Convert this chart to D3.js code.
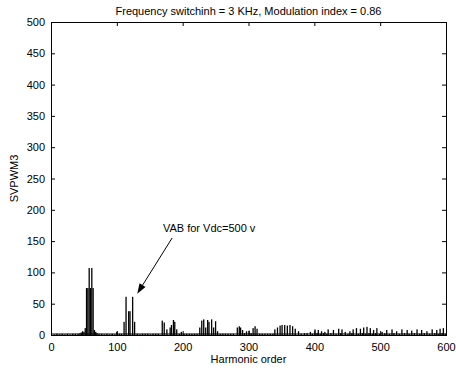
<!DOCTYPE html>
<html>
<head>
<meta charset="utf-8">
<script src="https://cdn.jsdelivr.net/npm/d3@7"></script>
<style>
  body { margin: 0; background: #fff; }
  text { font-family: "Liberation Sans", Arial, Helvetica, sans-serif; fill: #000; }
</style>
</head>
<body>
<script>
// Chart text.
var titleText = "Frequency switchinh = 3 KHz, Modulation index = 0.86",
  xLabel = "Harmonic order",
  yLabel = "SVPWM3",
  noteText = "VAB for Vdc=500 v";

// Axis ticks.
var xTicks = [0, 100, 200, 300, 400, 500, 600],
  yTicks = [0, 50, 100, 150, 200, 250, 300, 350, 400, 450, 500];

// Harmonic spectrum.
var harmonics = [
  44, 46, 48, 50, 52, 54, 56, 58, 60, 62, 64, 66, 68, 70, 73, 100,
  111, 114, 118, 120, 124, 127,
  169, 172, 176, 181, 183, 186, 188, 191, 198,
  226, 229, 232, 235, 238, 240, 244, 247, 250, 253,
  283, 286, 288, 291, 297, 301, 307, 310, 313,
  340, 344, 348, 351, 355, 359, 363, 367, 371, 376,
  394, 401, 406, 411, 416, 421, 429, 437, 442, 447, 454, 459, 464, 470, 475,
  480, 485, 490, 495, 503, 510, 518, 525, 533, 541, 548, 556, 563, 571, 579,
  586, 591, 596
];
var amplitudes = [
  3, 4, 6, 5, 11, 75, 75, 107, 75, 107, 75, 8, 5, 3, 2, 5,
  21, 61, 38, 38, 61, 21,
  23, 20, 9, 12, 16, 24, 21, 9, 5,
  12, 23, 25, 12, 24, 21, 25, 12, 22, 6,
  12, 14, 12, 8, 6, 7, 11, 14, 10,
  9, 12, 15, 16, 16, 15, 16, 14, 10, 6,
  5, 9, 8, 6, 5, 9, 8, 10, 9, 5, 6, 9, 11, 10, 12,
  13, 11, 8, 11, 5, 8, 9, 6, 9, 8, 7, 9, 8, 6, 9,
  8, 10, 11
];

// Low-level floor of the spectrum.
var floorHarmonics = [
  5, 9, 13, 17, 21, 25, 29, 33, 37, 41, 77, 81, 85, 89, 93, 97, 104, 107,
  131, 135, 139, 143, 147, 151, 155, 159, 163, 195, 202, 206, 210, 214, 218, 222,
  257, 261, 265, 269, 273, 277, 294, 304, 317, 321, 325, 329, 333, 337,
  380, 385, 389, 397, 404, 409, 414, 419, 425, 433, 440, 451, 457, 467, 473,
  478, 483, 488, 493, 499, 507, 514, 521, 529, 537, 544, 552, 560, 567, 575, 583, 589, 594, 599
];
var floorAmplitudes = [
  1, 2, 1, 2, 1, 2, 1, 2, 2, 2, 2, 1, 2, 1, 2, 1, 2, 2,
  2, 1, 2, 2, 2, 1, 2, 2, 2, 2, 2, 2, 2, 2, 2, 2,
  2, 2, 2, 2, 2, 2, 3, 3, 2, 2, 2, 2, 2, 2,
  2, 3, 3, 2, 3, 2, 3, 2, 3, 2, 3, 2, 3, 2, 3,
  2, 3, 2, 3, 2, 3, 2, 3, 2, 3, 2, 3, 2, 3, 2, 3, 2, 3, 2
];

// Annotation arrow, in data units: [harmonic, amplitude].
var arrowTail = [184, 155],
  arrowHead = [131, 66],
  notePos = [170, 164];

// Configuration parameters.
var width = 456,
  height = 372,
  margin = {top: 22, right: 10, bottom: 37, left: 51},
  tickLength = 4,
  fontSize = 11;

var svg = d3.select("body").append("svg")
    .attr("width", width)
    .attr("height", height),
  g = svg.append("g")
    .attr("transform", "translate(" + margin.left + "," + margin.top + ")");

var innerW = width - margin.left - margin.right,
  innerH = height - margin.top - margin.bottom;

var x = d3.scaleLinear().domain([0, 600]).range([0, innerW]),
  y = d3.scaleLinear().domain([0, 500]).range([innerH, 0]);

var bars = floorHarmonics.map(function(h, i) {
    return {h: h, v: floorAmplitudes[i]};
  }).concat(harmonics.map(function(h, i) {
    return {h: h, v: amplitudes[i]};
  }));

// Bars.
var barW = 1.3;
g.append("g").selectAll("rect")
    .data(bars)
  .enter().append("rect")
    .attr("x", function(d) { return x(d.h) - barW / 2; })
    .attr("y", function(d) { return y(d.v); })
    .attr("width", barW)
    .attr("height", function(d) { return y(0) - y(d.v); })
    .attr("fill", "#000");

// Baseline thickening.
g.append("line")
    .attr("x1", 0).attr("x2", innerW)
    .attr("y1", innerH - 1).attr("y2", innerH - 1)
    .attr("stroke", "#000").attr("stroke-width", 1);

// Axes, MATLAB style: ticks pointing in on all four sides.
function styleAxis(sel) {
  sel.select(".domain").remove();
  sel.selectAll("line").attr("stroke", "#000");
  sel.selectAll("text").style("font-size", fontSize + "px")
    .style("font-family", '"Liberation Sans", Arial, sans-serif');
}

g.append("g")
    .attr("transform", "translate(0," + innerH + ")")
    .call(d3.axisBottom(x).tickValues(xTicks).tickSize(-tickLength).tickPadding(8))
    .call(styleAxis);
g.append("g")
    .call(d3.axisTop(x).tickValues(xTicks).tickSize(-tickLength).tickFormat(""))
    .call(styleAxis);
g.append("g")
    .call(d3.axisLeft(y).tickValues(yTicks).tickSize(-tickLength).tickPadding(6))
    .call(styleAxis);
g.append("g")
    .attr("transform", "translate(" + innerW + ",0)")
    .call(d3.axisRight(y).tickValues(yTicks).tickSize(-tickLength).tickFormat(""))
    .call(styleAxis);

g.append("rect")
    .attr("x", 0).attr("y", 0)
    .attr("width", innerW).attr("height", innerH)
    .attr("fill", "none")
    .attr("stroke", "#000")
    .attr("stroke-width", 1)
    .attr("shape-rendering", "crispEdges");

// Title and labels.
svg.append("text")
    .attr("x", margin.left + innerW / 2)
    .attr("y", 15)
    .attr("text-anchor", "middle")
    .style("font-size", fontSize + "px")
    .text(titleText);
svg.append("text")
    .attr("x", margin.left + innerW / 2)
    .attr("y", 363)
    .attr("text-anchor", "middle")
    .style("font-size", fontSize + "px")
    .text(xLabel);
svg.append("text")
    .attr("transform", "translate(18," + (margin.top + innerH / 2) + ") rotate(-90)")
    .attr("text-anchor", "middle")
    .style("font-size", fontSize + "px")
    .text(yLabel);

// Annotation.
g.append("text")
    .attr("x", x(notePos[0]))
    .attr("y", y(notePos[1]))
    .style("font-size", fontSize + "px")
    .text(noteText);

var x1 = x(arrowTail[0]), y1 = y(arrowTail[1]),
  x2 = x(arrowHead[0]), y2 = y(arrowHead[1]),
  ang = Math.atan2(y2 - y1, x2 - x1),
  headLen = 10, headHalf = 3.5;
g.append("line")
    .attr("x1", x1).attr("y1", y1)
    .attr("x2", x2 - Math.cos(ang) * headLen * 0.8)
    .attr("y2", y2 - Math.sin(ang) * headLen * 0.8)
    .attr("stroke", "#000").attr("stroke-width", 1);
var bx = x2 - Math.cos(ang) * headLen, by = y2 - Math.sin(ang) * headLen;
g.append("path")
    .attr("d", "M" + x2 + "," + y2 +
      "L" + (bx - Math.sin(ang) * headHalf) + "," + (by + Math.cos(ang) * headHalf) +
      "L" + (bx + Math.sin(ang) * headHalf) + "," + (by - Math.cos(ang) * headHalf) + "Z")
    .attr("fill", "#000");
</script>
</body>
</html>
